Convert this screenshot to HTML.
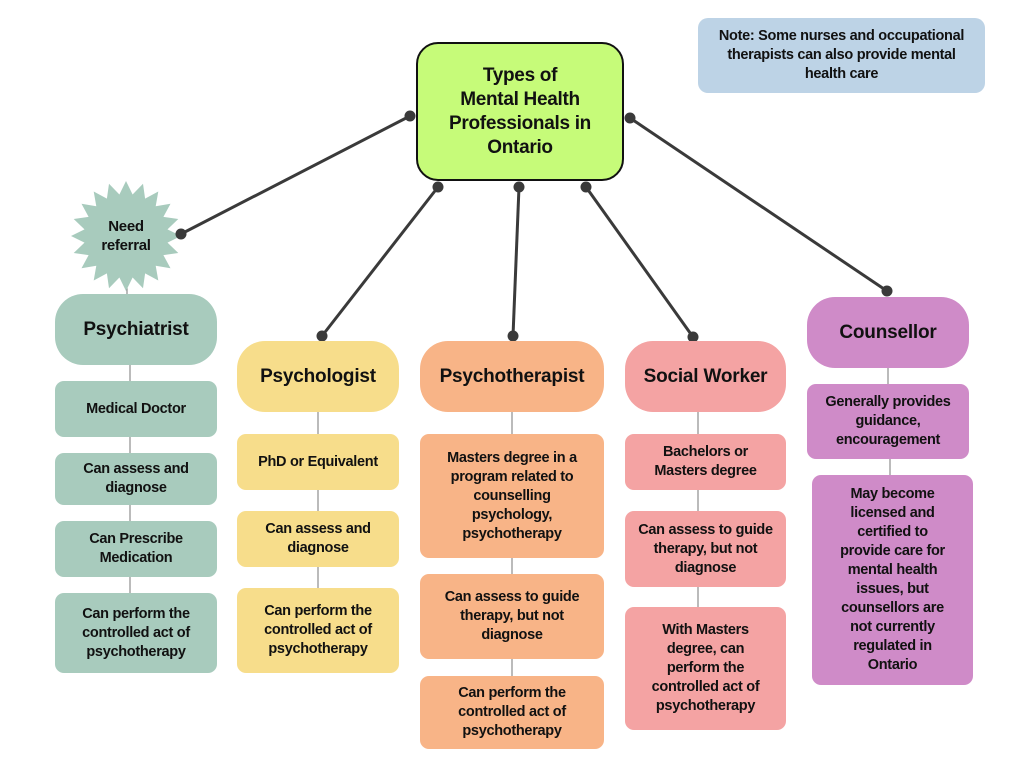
<!DOCTYPE html>
<html><head><meta charset="utf-8"><style>
body{margin:0;width:1024px;height:768px;background:#fff;position:relative;overflow:hidden;font-family:"Liberation Sans",sans-serif;font-weight:bold;color:#111}
.b{position:absolute;display:flex;align-items:center;justify-content:center;text-align:center;box-sizing:border-box;border-radius:9px;font-size:14.5px;line-height:19px;letter-spacing:-0.3px;padding:0 6px}
.h{border-radius:28px;font-size:19px;letter-spacing:-0.2px}
.g{background:#a8cbbd}.y{background:#f7dd8b}.o{background:#f8b487}.p{background:#f4a3a3}.v{background:#cf8bc8}
svg{position:absolute;left:0;top:0}
</style></head><body>
<svg width="1024" height="768">
<g stroke="#777" stroke-width="1">
<line x1="127" y1="285" x2="127" y2="294"/><line x1="130" y1="365" x2="130" y2="593"/>
<line x1="318" y1="412" x2="318" y2="588"/>
<line x1="512" y1="412" x2="512" y2="676"/>
<line x1="698" y1="412" x2="698" y2="607"/>
<line x1="888" y1="368" x2="888" y2="384"/><line x1="890" y1="459" x2="890" y2="475"/>
</g>
<polygon id="star" fill="#a8cbbd"/>
<g stroke="#3a3a3a" stroke-width="3">
<line x1="410" y1="116" x2="181" y2="234"/>
<line x1="438" y1="187" x2="322" y2="336"/>
<line x1="519" y1="187" x2="513" y2="336"/>
<line x1="586" y1="187" x2="693" y2="337"/>
<line x1="630" y1="118" x2="887" y2="291"/>
</g>
<g fill="#3a3a3a">
<circle cx="410" cy="116" r="5.5"/><circle cx="181" cy="234" r="5.5"/>
<circle cx="438" cy="187" r="5.5"/><circle cx="322" cy="336" r="5.5"/>
<circle cx="519" cy="187" r="5.5"/><circle cx="513" cy="336" r="5.5"/>
<circle cx="586" cy="187" r="5.5"/><circle cx="693" cy="337" r="5.5"/>
<circle cx="630" cy="118" r="5.5"/><circle cx="887" cy="291" r="5.5"/>
</g>
</svg>
<script>
var p=[],cx=126,cy=236,n=20;for(var i=0;i<2*n;i++){var r=i%2?42:55,a=Math.PI*i/n-Math.PI/2;p.push((cx+r*Math.cos(a)).toFixed(1)+","+(cy+r*Math.sin(a)).toFixed(1));}
document.getElementById("star").setAttribute("points",p.join(" "));
</script>
<div class="b" style="left:86px;top:212px;width:80px;height:48px;font-size:15px">Need referral</div>

<div class="b" style="left:416px;top:42px;width:208px;height:139px;background:#c6fb79;border:2px solid #111;border-radius:22px;font-size:19px;line-height:24px;padding:0 10px">Types of<br>Mental Health<br>Professionals in<br>Ontario</div>
<div class="b" style="left:698px;top:18px;width:287px;height:75px;background:#bdd3e6;border-radius:10px;font-size:14.5px;line-height:19px;padding:0 18px">Note: Some nurses and occupational therapists can also provide mental health care</div>

<div class="b h g" style="left:55px;top:294px;width:162px;height:71px">Psychiatrist</div>
<div class="b g" style="left:55px;top:381px;width:162px;height:56px">Medical Doctor</div>
<div class="b g" style="left:55px;top:453px;width:162px;height:52px">Can assess and diagnose</div>
<div class="b g" style="left:55px;top:521px;width:162px;height:56px">Can Prescribe Medication</div>
<div class="b g" style="left:55px;top:593px;width:162px;height:80px">Can perform the controlled act of psychotherapy</div>

<div class="b h y" style="left:237px;top:341px;width:162px;height:71px">Psychologist</div>
<div class="b y" style="left:237px;top:434px;width:162px;height:56px">PhD or Equivalent</div>
<div class="b y" style="left:237px;top:511px;width:162px;height:56px">Can assess and diagnose</div>
<div class="b y" style="left:237px;top:588px;width:162px;height:85px">Can perform the controlled act of psychotherapy</div>

<div class="b h o" style="left:420px;top:341px;width:184px;height:71px">Psychotherapist</div>
<div class="b o" style="left:420px;top:434px;width:184px;height:124px;padding:0 24px">Masters degree in a program related to counselling psychology, psychotherapy</div>
<div class="b o" style="left:420px;top:574px;width:184px;height:85px;padding:0 16px">Can assess to guide therapy, but not diagnose</div>
<div class="b o" style="left:420px;top:676px;width:184px;height:73px;padding:0 16px">Can perform the controlled act of psychotherapy</div>

<div class="b h p" style="left:625px;top:341px;width:161px;height:71px">Social Worker</div>
<div class="b p" style="left:625px;top:434px;width:161px;height:56px;padding:0 24px">Bachelors or Masters degree</div>
<div class="b p" style="left:625px;top:511px;width:161px;height:76px;padding:0 10px">Can assess to guide therapy, but not diagnose</div>
<div class="b p" style="left:625px;top:607px;width:161px;height:123px;padding:0 18px">With Masters degree, can perform the controlled act of psychotherapy</div>

<div class="b h v" style="left:807px;top:297px;width:162px;height:71px">Counsellor</div>
<div class="b v" style="left:807px;top:384px;width:162px;height:75px">Generally provides guidance, encouragement</div>
<div class="b v" style="left:812px;top:475px;width:161px;height:210px;padding:0 22px">May become licensed and certified to provide care for mental health issues, but counsellors are not currently regulated in Ontario</div>
</body></html>
